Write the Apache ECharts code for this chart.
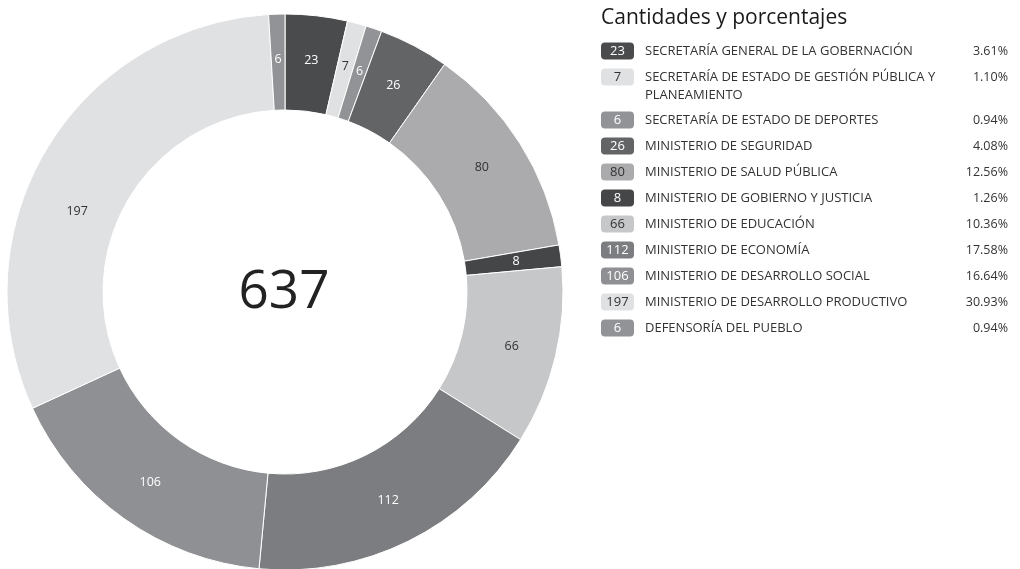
<!DOCTYPE html>
<html>
<head>
<meta charset="utf-8">
<script src="https://cdn.jsdelivr.net/npm/echarts@6/dist/echarts.min.js"></script>
<style>
  html, body { margin: 0; padding: 0; background: #fff; }
  #main { width: 1020px; height: 569px; }
</style>
</head>
<body>
<div id="main"></div>
<script>
// datos del gráfico
var nombres = [
    'SECRETARÍA GENERAL DE LA GOBERNACIÓN',
    'SECRETARÍA DE ESTADO DE GESTIÓN PÚBLICA Y\nPLANEAMIENTO',
    'SECRETARÍA DE ESTADO DE DEPORTES',
    'MINISTERIO DE SEGURIDAD',
    'MINISTERIO DE SALUD PÚBLICA',
    'MINISTERIO DE GOBIERNO Y JUSTICIA',
    'MINISTERIO DE EDUCACIÓN',
    'MINISTERIO DE ECONOMÍA',
    'MINISTERIO DE DESARROLLO SOCIAL',
    'MINISTERIO DE DESARROLLO PRODUCTIVO',
    'DEFENSORÍA DEL PUEBLO'
];
var cantidades = [23, 7, 6, 26, 80, 8, 66, 112, 106, 197, 6];
var colores = ['#4a4b4d', '#e0e1e3', '#929396', '#636466', '#ababad', '#454648',
    '#c6c7c9', '#7c7d80', '#8f9093', '#e0e1e3', '#929396'];
var coloresTexto = ['#fff', '#333', '#fff', '#fff', '#333', '#fff',
    '#333', '#fff', '#fff', '#333', '#fff'];
var titulo = 'Cantidades y porcentajes';

var fuente = '"Open Sans", "Noto Sans", sans-serif';
var total = cantidades.reduce(function (a, b) { return a + b; }, 0);

var datos = cantidades.map(function (v, i) {
    return {
        name: nombres[i],
        value: v,
        itemStyle: {color: colores[i]},
        label: {color: coloresTexto[i]}
    };
});
// la etiqueta de 197 está más abajo en el original
datos[9].label.offset = [-8, 39];

// leyenda armada a mano (badge + nombre + porcentaje)
var graficos = [{
    type: 'text',
    left: 601, top: 8,
    style: {text: titulo, fontSize: 21, fontFamily: fuente, fill: '#1a1a1a'}
}];
var y = 51;
for (var i = 0; i < cantidades.length; i++) {
    graficos.push({
        type: 'rect',
        shape: {x: 601, y: y - 8.5, width: 33, height: 17, r: 4},
        style: {fill: colores[i]}
    });
    graficos.push({
        type: 'text',
        x: 617.5, y: y + 0.5,
        style: {
            text: String(cantidades[i]), fontSize: 13, fontFamily: fuente,
            fill: coloresTexto[i], align: 'center', verticalAlign: 'middle'
        }
    });
    graficos.push({
        type: 'text',
        x: 645, y: y - 8.5,
        style: {
            text: nombres[i], fontSize: 13, fontFamily: fuente, fill: '#333',
            lineHeight: 18, verticalAlign: 'top'
        }
    });
    graficos.push({
        type: 'text',
        x: 1008, y: y,
        style: {
            text: (cantidades[i] / total * 100).toFixed(2) + '%', fontSize: 12.5,
            fontFamily: fuente, fill: '#333', align: 'right', verticalAlign: 'middle'
        }
    });
    var lineas = nombres[i].split('\n').length;
    y += 26 + (lineas - 1) * 17;
}

// total en el centro
graficos.push({
    type: 'text',
    x: 284, y: 293,
    style: {
        text: String(total), fontSize: 53, fontFamily: fuente, fill: '#222',
        align: 'center', verticalAlign: 'middle'
    }
});

var chart = echarts.init(document.getElementById('main'));
chart.setOption({
    animation: false,
    graphic: graficos,
    series: [{
        type: 'pie',
        center: [285, 292],
        radius: [182, 278],
        startAngle: 90,
        clockwise: true,
        avoidLabelOverlap: false,
        label: {
            show: true,
            position: 'inside',
            fontSize: 12.5,
            fontFamily: fuente,
            formatter: '{c}'
        },
        labelLine: {show: false},
        itemStyle: {borderColor: '#fff', borderWidth: 1},
        emphasis: {disabled: true},
        data: datos
    }]
});
</script>
</body>
</html>
